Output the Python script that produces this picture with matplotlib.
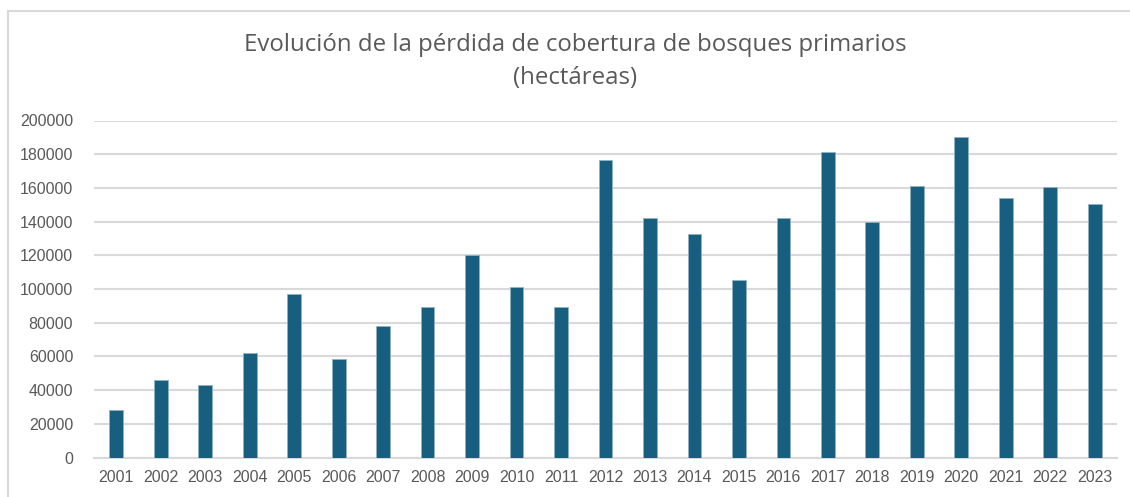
import matplotlib.pyplot as plt
from matplotlib.lines import Line2D

years = [str(y) for y in range(2001, 2024)]
hectares = [28200, 45800, 43200, 62000, 97300, 58300, 78000, 89100, 120000,
            101000, 89100, 176800, 142400, 132600, 105100, 142400, 181100,
            139800, 161100, 190000, 153800, 160500, 150300]
yticks = list(range(0, 200001, 20000))

bar_color = "#175e7f"
text_color = "#595959"
grid_color = "#d9d9d9"

plt.rcParams["font.family"] = ["Open Sans", "DejaVu Sans"]

fig = plt.figure(figsize=(11.3, 4.97), dpi=100)
ax = fig.add_axes([94 / 1130, 1 - 457.5 / 497, (1117 - 94) / 1130, 337 / 497])

# chart border: only top and left edges are visible in the reference
bx, by = 7.5 / 1130, 1 - 10.5 / 497
fig.lines.append(Line2D([bx, 1.0], [by, by], transform=fig.transFigure,
                        color=grid_color, linewidth=1.5))
fig.lines.append(Line2D([bx, bx], [0.0, by], transform=fig.transFigure,
                        color=grid_color, linewidth=1.5))

x = range(len(years))
ax.bar(x, hectares, width=0.31, color=bar_color, edgecolor="#8fb3c6",
       linewidth=0.6, zorder=3)

ax.set_xlim(-0.5, len(years) - 0.5)
ax.set_ylim(0, 200000)
ax.set_yticks(yticks)
ax.set_yticklabels([str(v) for v in yticks], family=["Liberation Sans", "DejaVu Sans"])
ax.set_xticks(list(x))
ax.set_xticklabels(years, family=["Liberation Sans", "DejaVu Sans"])
ax.yaxis.grid(True, color=grid_color, linewidth=1.5, zorder=0)
ax.set_axisbelow(True)
for s in ["top", "right", "left"]:
    ax.spines[s].set_visible(False)
ax.spines["bottom"].set_color(grid_color)
ax.spines["bottom"].set_linewidth(1.5)
ax.tick_params(axis="both", length=0, labelsize=11.5, colors=text_color)
ax.tick_params(axis="y", pad=15)
ax.tick_params(axis="x", pad=9)

fig.text(575 / 1130, 1 - 45 / 497, "Evolución de la pérdida de cobertura de bosques primarios",
         ha="center", va="center", fontsize=17.3, color=text_color)
fig.text(575 / 1130, 1 - 78 / 497, "(hectáreas)",
         ha="center", va="center", fontsize=17.3, color=text_color)

fig.savefig("out.png", dpi=100)
